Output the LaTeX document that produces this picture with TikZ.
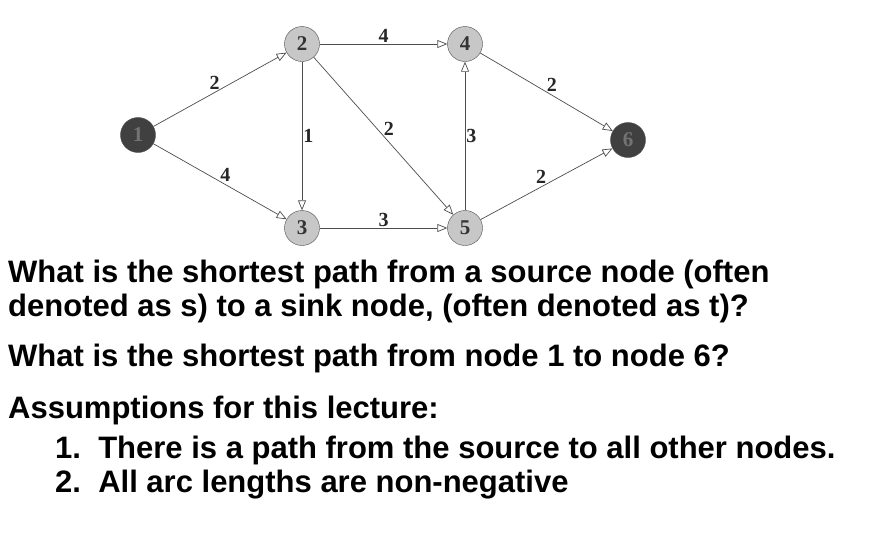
\documentclass[tikz,border=0pt]{standalone}
\usepackage{fontspec}
\setmainfont{Liberation Serif}
\newfontfamily\arial{Liberation Sans}
\usetikzlibrary{arrows.meta}
\begin{document}
\begin{tikzpicture}[x=1pt,y=-1pt,
  vtx/.style={circle,draw=black!70,fill=black!22,minimum size=35pt,inner sep=0pt,font=\bfseries\fontsize{21}{21}\selectfont,text=black!80},
  dark/.style={vtx,fill=black!75,text=black!55},
  arc/.style={draw=black!70,line width=0.7pt,-{Triangle[open,length=10pt,width=8pt]}},
  wt/.style={font=\bfseries\fontsize{20}{20}\selectfont,inner sep=1pt,text=black!85},
  txt/.style={anchor=base west,font=\arial\bfseries\fontsize{31}{31}\selectfont,inner sep=0pt}]
\useasboundingbox (0,0) rectangle (882,539);
\node[dark] (n1) at (138,135) {1};
\node[vtx] (n2) at (302,44) {2};
\node[vtx] (n4) at (465,44) {4};
\node[dark] (n6) at (628,140) {6};
\node[vtx] (n3) at (302,228) {3};
\node[vtx] (n5) at (465,228) {5};
\draw[arc] (n1) -- node[wt,above left=-1pt] {2} (n2);
\draw[arc] (n1) -- node[wt,above right=-1pt] {4} (n3);
\draw[arc] (n2) -- node[wt,above] {4} (n4);
\draw[arc] (n2) -- node[wt,right] {1} (n3);
\draw[arc] (n2) -- node[wt,above right=-1pt] {2} (n5);
\draw[arc] (n3) -- node[wt,above] {3} (n5);
\draw[arc] (n5) -- node[wt,right] {3} (n4);
\draw[arc] (n4) -- node[wt,above right=-1pt] {2} (n6);
\draw[arc] (n5) -- node[wt,above left=-1pt] {2} (n6);
\node[txt] (t1) at (8,282) {What is the shortest path from a source node (often};
\node[txt] (t2) at (8,316) {denoted as s) to a sink node, (often denoted as t)?};
\node[txt] (t3) at (8,366) {What is the shortest path from node 1 to node 6?};
\node[txt] (t4) at (8,418) {Assumptions for this lecture:};
\node[txt] (t5) at (55,458) {1.\ \ There is a path from the source to all other nodes.};
\node[txt] (t6) at (55,492) {2.\ \ All arc lengths are non-negative};
\end{tikzpicture}
\end{document}
